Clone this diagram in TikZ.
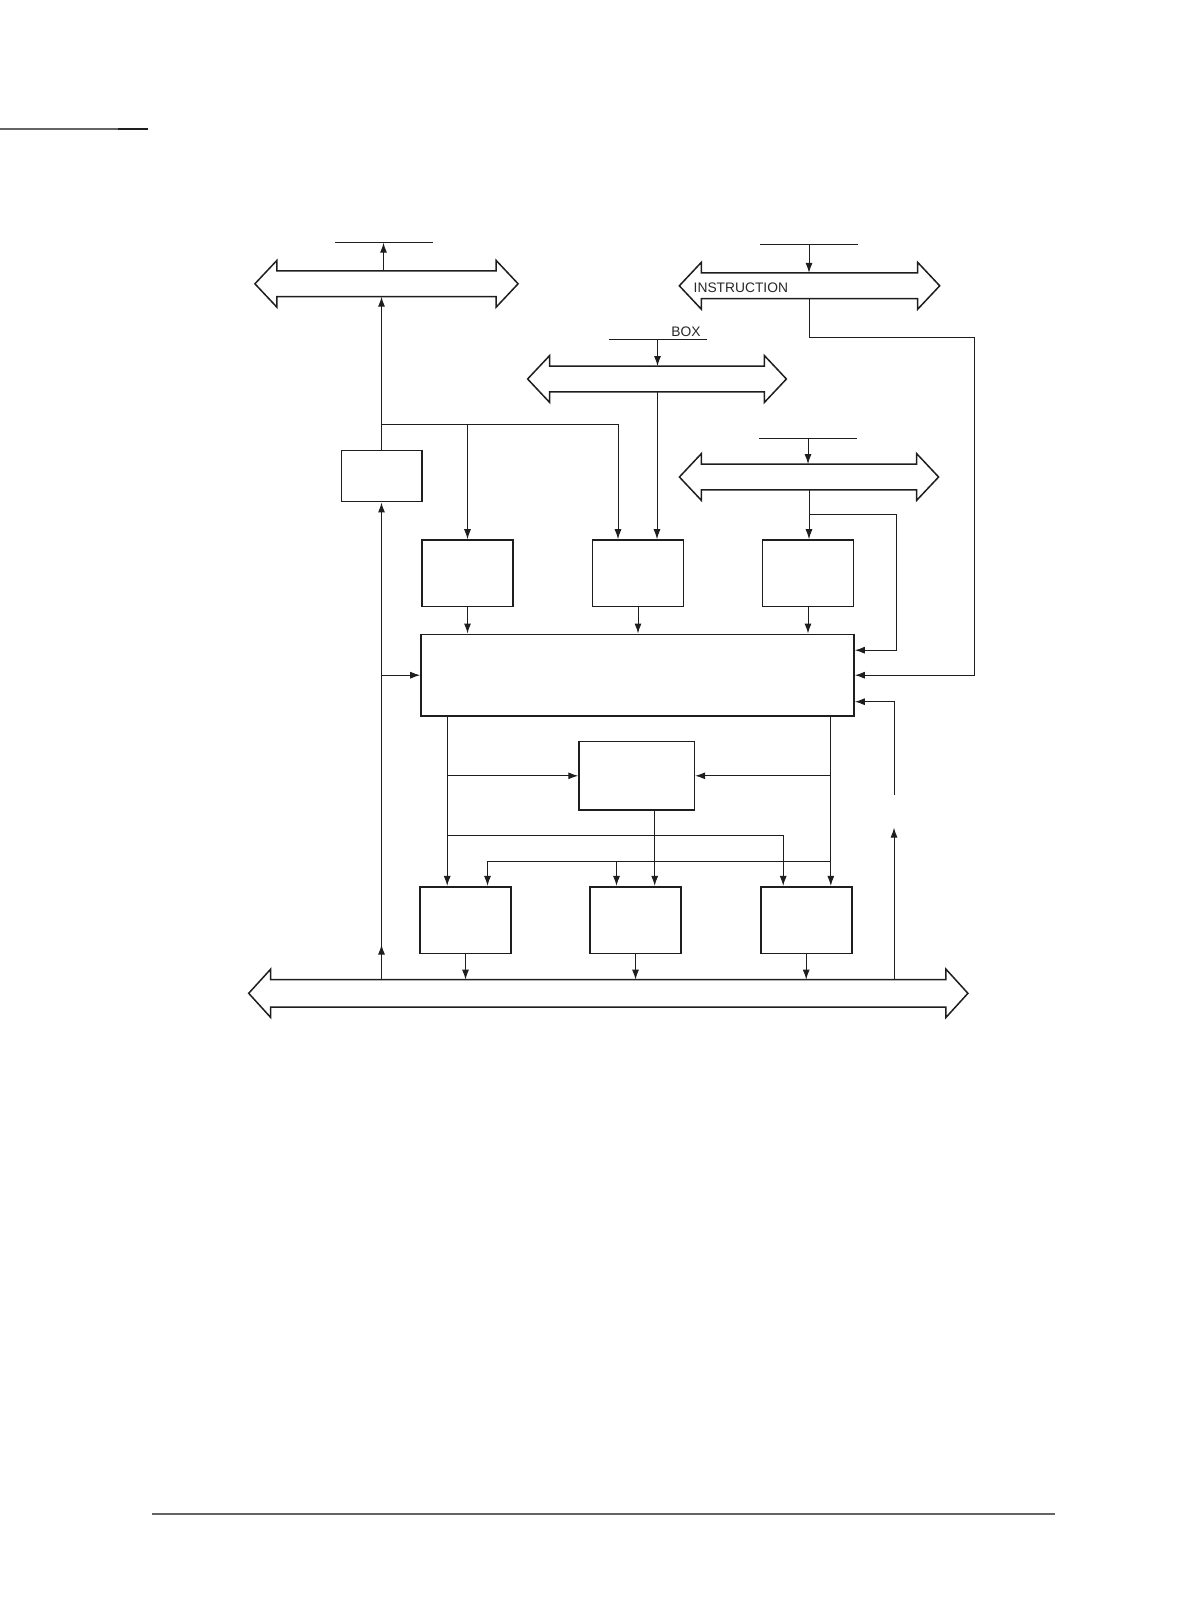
\documentclass[tikz,border=0pt]{standalone}
\usepackage{fontspec}
\newfontfamily\labelfont{Liberation Sans}
\usetikzlibrary{
  arrows.meta,
  positioning,
  calc
}
\definecolor{linecolor}{RGB}{30, 30, 30}
\definecolor{rulecolor}{RGB}{100, 100, 100}
\definecolor{labelcolor}{RGB}{40, 40, 40}
\tikzset{
busline/.style={
  draw=linecolor,
  line width=0.75pt,
  line join=miter
},
busshaft/.style={
  inner sep=0pt,
  minimum height=12.5pt
},
unitbox/.style={
  draw=linecolor,
  line width=0.8pt,
  inner sep=0pt,
  minimum width=45.5pt,
  minimum height=33.3pt
},
regbox/.style={
  unitbox,
  minimum width=40.2pt,
  minimum height=25.5pt
},
bigbox/.style={
  unitbox,
  minimum width=216.5pt,
  minimum height=40.85pt
},
midbox/.style={
  unitbox,
  minimum width=57.65pt,
  minimum height=34.15pt
},
buslabel/.style={
  font=\labelfont\fontsize{6.9}{8}\selectfont,
  text=labelcolor,
  inner sep=0pt
},
wire/.style={
  line width=0.5pt,
  draw=linecolor
},
arrow/.style={
  -{Latex[length=5pt,width=3.5pt]},
  line width=0.5pt,
  draw=linecolor
}
}
% outline of a two-headed bus around its shaft node
\newcommand{\drawbus}[1]{%
  \draw[busline] (#1.north west) -- (#1.north east) -- ++(0,-10.5)
    -- ($(#1.east)+(22,0)$) -- ($(#1.south east)+(0,10.5)$)
    -- (#1.south east) -- (#1.south west) -- ++(0,10.5)
    -- ($(#1.west)+(-22,0)$) -- ($(#1.north west)+(0,-10.5)$) -- cycle;%
}

\begin{document}
\begin{tikzpicture}[x=0.5pt, y=-0.5pt]
  \useasboundingbox (0,0) rectangle (1188,1598);

  % Rows
  \def\rowU{573.3} % upper unit boxes
  \def\rowL{920}   % lower unit boxes

  % Page rules
  \draw[rulecolor, line width=0.6pt] (0,129) -- (118,129);
  \draw[linecolor, line width=1pt] (118,129) -- (148,129);
  \draw[rulecolor, line width=0.6pt] (152,1514) -- (1055,1514);

  % Buses
  \node[busshaft, minimum width=109.2pt] (busA) at (386.5,283.8) {};
  \node[busshaft, minimum width=107.8pt] (busB) at (809.5,285.8) {};
  \node[busshaft, minimum width=107pt] (busC) at (657,379) {};
  \node[busshaft, minimum width=107.2pt] (busD) at (809,477) {};
  \node[busshaft, minimum width=337.2pt, minimum height=13.3pt] (busE) at (608.3,993.3) {};
  \foreach \b in {busA,busB,busC,busD,busE} {
    \drawbus{\b}
  }
  \node[buslabel, anchor=west] (instr) at ($(busB.west)+(-8,2)$) {INSTRUCTION};
  \node[buslabel, anchor=base] (boxlbl) at (686,337) {BOX};

  % Outside lines above the buses
  \foreach \nm/\x/\y in {stubA/383.5/242.7, stubB/809/245, stubC/657.5/340, stubD/808/438.3} {
    \coordinate (\nm) at (\x,\y);
    \draw[wire] ($(\nm)+(-49,0)$) -- ($(\nm)+(49,0)$);
  }
  \draw[arrow] (busA.north -| stubA) -- (stubA);
  \draw[arrow] (stubB) -- (stubB |- busB.north);
  \draw[arrow] (stubC) -- (stubC |- busC.north);
  \draw[arrow] (stubD) -- (stubD |- busD.north);

  % Boxes
  \node[regbox] (reg) at (381.5,476.2) {};
  \node[unitbox] (box1) at (467.5,\rowU) {};
  \node[unitbox] (box2) at (638,\rowU) {};
  \node[unitbox] (box3) at (808,\rowU) {};
  \node[bigbox] (big) at (637.5,675.2) {};
  \node[midbox] (mid) at (636.7,775.8) {};
  \node[unitbox] (box4) at (465.5,\rowL) {};
  \node[unitbox] (box5) at (635.5,\rowL) {};
  \node[unitbox] (box6) at (806.2,\rowL) {};

  % Left side
  \coordinate (jA) at (381.5,424.3);
  \draw[arrow] (reg.north) -- (reg.north |- busA.south);
  \draw[arrow] (jA) -| (box1.north);
  \draw[arrow] (jA) -| ([xshift=-10pt]box2.north);
  \draw[arrow] (busE.north -| reg.south) -- ++(0,-35);
  \draw[arrow] (busE.north -| reg.south) -- (reg.south);
  \draw[arrow] (big.west -| reg.south) -- (big.west);

  % Upper buses into the boxes
  \draw[arrow] (busC.south) -- (busC.south |- box2.north);
  \draw[arrow] (busD.south) -- (busD.south |- box3.north);
  \foreach \b in {box1,box2,box3} {
    \draw[arrow] (\b.south) -- (\b.south |- big.north);
  }

  % Right side
  \coordinate (rB) at (974,337.3);
  \coordinate (rD) at (896,515);
  \coordinate (rE) at (894,701.7);
  \draw[arrow] (busB.south) |- (rB) |- (big.east);
  \draw[arrow] (busD.south |- rD) -- (rD) |- ([yshift=12.5pt]big.east);
  \draw[arrow] ($(rE)+(0,93)$) -- (rE) -- ([yshift=-13.25pt]big.east);
  \draw[arrow] (busE.north -| rE) -- ++(0,-152);

  % Below the big box
  \coordinate (bl) at ([xshift=13.5pt]big.south west);
  \coordinate (br) at ([xshift=-12pt]big.south east);
  \coordinate (jL) at (448,835);
  \coordinate (jR) at (830,861);
  \draw[arrow] (bl) -- (bl |- box4.north);
  \draw[arrow] (bl |- mid.west) -- (mid.west);
  \draw[arrow] (jL) -| ([xshift=-11.5pt]box6.north);
  \draw[arrow] (br) -- (br |- box6.north);
  \draw[arrow] (br |- mid.east) -- (mid.east);
  \draw[arrow] (jR) -| ([xshift=11pt]box4.north);
  \draw[arrow] ([xshift=-9.5pt]box5.north |- jR) -- ([xshift=-9.5pt]box5.north);
  \draw[arrow] ([xshift=9pt]mid.south) -- ([xshift=9pt]mid.south |- box5.north);

  % Lower boxes onto the bottom bus
  \foreach \b in {box4,box5,box6} {
    \draw[arrow] (\b.south) -- (\b.south |- busE.north);
  }
\end{tikzpicture}
\end{document}
